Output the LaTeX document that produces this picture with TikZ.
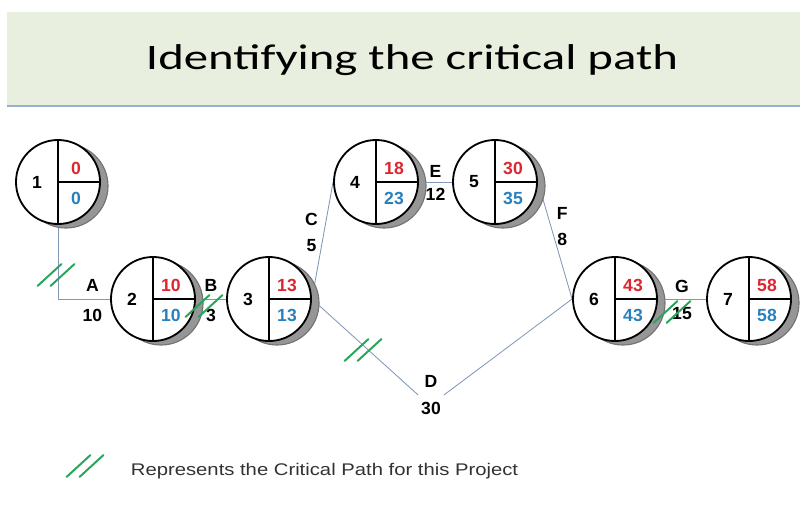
\documentclass[tikz,border=0pt]{standalone}
\usepackage{fontspec}
\setmainfont{Liberation Sans}
\newfontfamily\titlefont[FakeStretch=1.36]{Carlito}
\newfontfamily\legendfont[FakeStretch=1.2]{Liberation Sans}
\usepackage{tikz}
\usetikzlibrary{positioning, calc, backgrounds}
\definecolor{myred}{RGB}{220,38,48}
\definecolor{myblue}{RGB}{40,128,190}
\definecolor{mygreen}{RGB}{40,165,90}
\definecolor{mylink}{RGB}{128,152,182}
\definecolor{mytext}{RGB}{50,50,50}
\definecolor{hdrband}{RGB}{233,239,223}
\definecolor{hdrline}{RGB}{150,175,205}
\definecolor{myshadow}{RGB}{150,150,150}
\tikzset{
  event/.style={circle, draw=black, fill=white, line width=1.3pt,
    minimum size=2.1cm, inner sep=0pt},
  shadowdisc/.style={circle, draw=black!55, fill=myshadow, line width=0.8pt,
    minimum size=2.1cm, inner sep=0pt},
  num/.style={font=\fontsize{12.5}{15}\selectfont\bfseries, inner sep=0pt},
  lbl/.style={font=\fontsize{12.5}{15}\selectfont\bfseries, text=black,
    inner sep=2pt, align=center},
  link/.style={color=mylink, line width=0.6pt},
  crit/.style={draw=mygreen, line width=1.4pt, line cap=round}
}
\newcommand{\critmark}[1]{%
  \draw[crit] ($(#1)+(-18.5,11)$) -- ++(24,-22);
  \draw[crit] ($(#1)+(-5.5,11)$) -- ++(24,-22);}

\begin{document}
\begin{tikzpicture}[x=0.025cm, y=-0.025cm]
  \useasboundingbox (0,0) rectangle (800,519);
  \fill[hdrband] (7,12) rectangle (800,106);
  \draw[hdrline, line width=1.5pt] (7,106) -- (800,106);
  \node[font=\titlefont\fontsize{25.5}{30}\selectfont, anchor=base] (title) at (412,69) {Identifying the critical path};

  \foreach \n/\px/\py/\es/\ls in {1/58/182/0/0, 2/153/299/10/10, 3/269/299/13/13,
      4/376/182/18/23, 5/495/182/30/35, 6/615/299/43/43, 7/749/299/58/58}{
    \node[shadowdisc] (s\n) at (\px+8,\py+4) {};
    \node[event] (n\n) at (\px,\py) {};
    \draw[line width=1.3pt] (n\n.north) -- (n\n.south) (n\n.center) -- (n\n.east);
    \node[num] (k\n) at ($(n\n)+(-21,0)$) {\n};
    \node[num, text=myred] (e\n) at ($(n\n)+(18,-14)$) {\es};
    \node[num, text=myblue] (l\n) at ($(n\n)+(18,16)$) {\ls};
  }

  \node[lbl] (d) at (431,395) {D\\[4pt]30};

  \begin{scope}[on background layer]
    \draw[link] (n1.south) |- node[lbl, pos=0.83, above=3pt] {A} node[lbl, pos=0.83, below=5pt] {10} (n2.west);
    \draw[link] (n2.east) -- node[lbl, above=3pt] {B} node[lbl, below=5pt] {3} (n3.west);
    \draw[link] (n3.east) -- node[lbl, pos=0.57, left, xshift=-2pt] {C\\[4pt]5} (n4.west);
    \draw[link] (n3.east) -- (d.west);
    \draw[link] (d.east) -- (n6.west);
    \draw[link] (n4.east) -- node[lbl, above=1pt] {E} node[lbl, below=2pt] {12} (n5.west);
    \draw[link] (n5.east) -- node[lbl, pos=0.38, right, xshift=2pt] {F\\[4pt]8} (n6.west);
    \draw[link] (n6.east) -- node[lbl, above=2pt] {G} node[lbl, below=4pt] {15} (n7.west);
  \end{scope}

  \critmark{56,275}
  \critmark{204,306}
  \critmark{363,350}
  \critmark{672,312}

  \critmark{85,466}
  \node[anchor=base west, text=mytext, font=\legendfont\fontsize{12}{14}\selectfont] (legend) at (126,475) {Represents the Critical Path for this Project};
\end{tikzpicture}
\end{document}
